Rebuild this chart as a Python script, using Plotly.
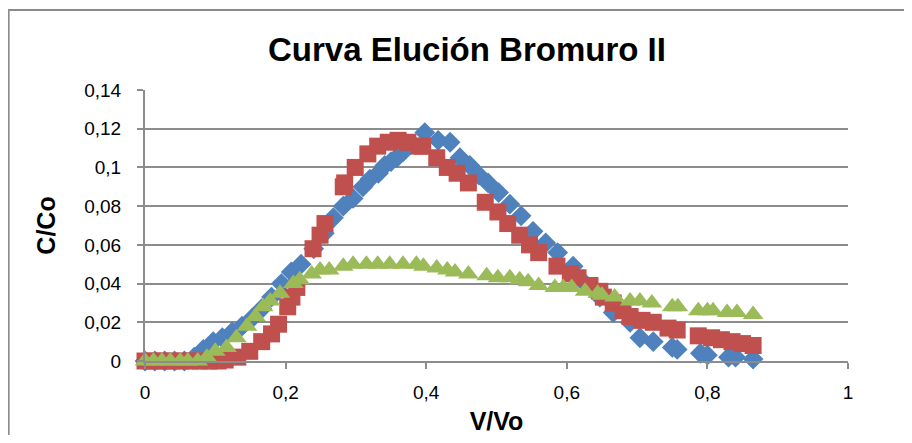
import plotly.graph_objects as go

# V/Vo and C/Co, one pair of lists per series
x_s1 = [0, 0.014, 0.028, 0.042, 0.056, 0.07, 0.083, 0.097, 0.11, 0.124, 0.138,
        0.152, 0.166, 0.18, 0.194, 0.208, 0.222, 0.24, 0.255, 0.268, 0.282,
        0.296, 0.31, 0.32, 0.332, 0.341, 0.35, 0.358, 0.367, 0.38, 0.398,
        0.417, 0.434, 0.448, 0.462, 0.475, 0.488, 0.503, 0.519, 0.535, 0.552,
        0.57, 0.587, 0.609, 0.626, 0.647, 0.666, 0.69, 0.704, 0.723, 0.75,
        0.757, 0.79, 0.8, 0.83, 0.84, 0.865]
y_s1 = [0, 0, 0, 0, 0, 0.002, 0.006, 0.01, 0.012, 0.015, 0.018,
        0.022, 0.027, 0.033, 0.04, 0.046, 0.05, 0.058, 0.066, 0.074, 0.08,
        0.084, 0.09, 0.094, 0.097, 0.101, 0.103, 0.105, 0.108, 0.112, 0.118,
        0.114, 0.113, 0.105, 0.101, 0.096, 0.092, 0.087, 0.081, 0.075, 0.067,
        0.061, 0.056, 0.049, 0.04, 0.033, 0.025, 0.02, 0.012, 0.01, 0.007,
        0.006, 0.004, 0.003, 0.002, 0.002, 0.001]

x_s2 = [0, 0.013, 0.026, 0.039, 0.052, 0.065, 0.078, 0.091, 0.104, 0.114,
        0.132, 0.149, 0.166, 0.18, 0.19, 0.203, 0.209, 0.216, 0.239, 0.249,
        0.256, 0.282, 0.284, 0.299, 0.317, 0.331, 0.346, 0.36, 0.374, 0.39,
        0.395, 0.415, 0.43, 0.444, 0.46, 0.484, 0.502, 0.516, 0.533, 0.547,
        0.56, 0.586, 0.605, 0.616, 0.633, 0.647, 0.652, 0.666, 0.68, 0.69,
        0.707, 0.723, 0.744, 0.757, 0.787, 0.806, 0.82, 0.835, 0.85, 0.865]
y_s2 = [0, 0, 0, 0, 0, 0, 0, 0, 0, 0.0005,
        0.002, 0.005, 0.01, 0.014, 0.019, 0.028, 0.033, 0.038, 0.058, 0.065,
        0.071, 0.09, 0.092, 0.1, 0.107, 0.111, 0.113, 0.114, 0.113, 0.111,
        0.111, 0.105, 0.1, 0.097, 0.092, 0.082, 0.077, 0.071, 0.065, 0.06,
        0.056, 0.049, 0.045, 0.043, 0.039, 0.036, 0.033, 0.03, 0.026, 0.023,
        0.021, 0.02, 0.017, 0.016, 0.013, 0.012, 0.011, 0.01, 0.009, 0.008]

x_s3 = [0, 0.012, 0.024, 0.036, 0.05, 0.061, 0.075, 0.088, 0.1, 0.116, 0.13,
        0.145, 0.157, 0.168, 0.178, 0.192, 0.211, 0.22, 0.237, 0.249, 0.262,
        0.282, 0.296, 0.315, 0.331, 0.348, 0.367, 0.386, 0.396, 0.415, 0.43,
        0.441, 0.46, 0.486, 0.502, 0.519, 0.533, 0.545, 0.56, 0.583, 0.595,
        0.607, 0.626, 0.644, 0.65, 0.668, 0.69, 0.704, 0.721, 0.75, 0.758,
        0.787, 0.8, 0.808, 0.828, 0.842, 0.865]
y_s3 = [0, 0, 0, 0, 0, 0, 0, 0.002, 0.005, 0.007, 0.012,
        0.018, 0.023, 0.028, 0.031, 0.035, 0.04, 0.042, 0.045, 0.047, 0.047,
        0.049, 0.05, 0.05, 0.05, 0.05, 0.05, 0.05, 0.049, 0.048, 0.047,
        0.046, 0.045, 0.044, 0.043, 0.043, 0.042, 0.041, 0.039, 0.038, 0.038,
        0.038, 0.036, 0.035, 0.034, 0.033, 0.031, 0.031, 0.03, 0.028, 0.028,
        0.026, 0.026, 0.026, 0.025, 0.025, 0.024]

x_ticks = [0, 0.2, 0.4, 0.6, 0.8, 1]
x_labels = ["0", "0,2", "0,4", "0,6", "0,8", "1"]
y_ticks = [0, 0.02, 0.04, 0.06, 0.08, 0.1, 0.12, 0.14]
y_labels = ["0", "0,02", "0,04", "0,06", "0,08", "0,1", "0,12", "0,14"]

font = "Liberation Sans, Arial, sans-serif"
grid = "#8c8c8c"

fig = go.Figure()
fig.add_trace(go.Scatter(x=x_s1, y=y_s1, mode="markers", name="Serie1",
                         marker=dict(symbol="diamond", size=16, color="#4F81BD"),
                         cliponaxis=False))
fig.add_trace(go.Scatter(x=x_s2, y=y_s2, mode="markers", name="Serie2",
                         marker=dict(symbol="square", size=17, color="#C0504D"),
                         cliponaxis=False))
fig.add_trace(go.Scatter(x=x_s3, y=y_s3, mode="markers", name="Serie3",
                         marker=dict(symbol="triangle-up", size=18, color="#9BBB59"),
                         cliponaxis=False))

# page body has an 8px margin, so the figure is sized to fit inside it
fig.update_layout(
    width=896, height=427,
    margin=dict(l=137, r=56, t=82, b=74),
    paper_bgcolor="white", plot_bgcolor="white",
    showlegend=False,
    font=dict(family=font, color="black", size=19),
    annotations=[
        dict(text="<b>Curva Elución Bromuro II</b>", xref="paper", yref="paper",
             x=0.458, y=1.148, xanchor="center", yanchor="middle",
             showarrow=False, font=dict(size=33, family=font)),
    ],
    shapes=[
        dict(type="rect", xref="paper", yref="paper", x0=-0.194, x1=1.2,
             y0=-0.5, y1=1.295, line=dict(color="#8a8a8a", width=2),
             layer="below"),
    ],
)
fig.update_xaxes(range=[0, 1], tickvals=x_ticks, ticktext=x_labels,
                 showgrid=False, zeroline=False, showline=True, automargin=False,
                 linecolor=grid, linewidth=2, ticks="outside", ticklen=6,
                 tickcolor=grid, tickwidth=2, ticklabelstandoff=7,
                 title=dict(text="<b>V/Vo</b>", font=dict(size=25), standoff=19))
fig.update_yaxes(range=[0, 0.14], tickvals=y_ticks, ticktext=y_labels,
                 showgrid=True, gridcolor=grid, gridwidth=2, zeroline=False,
                 showline=True, automargin=False, linecolor=grid, linewidth=2,
                 ticks="outside", ticklen=6, tickcolor=grid, tickwidth=2,
                 ticklabelstandoff=12,
                 title=dict(text="<b>C/Co</b>", font=dict(size=25), standoff=21))

fig.write_html("out.html")
